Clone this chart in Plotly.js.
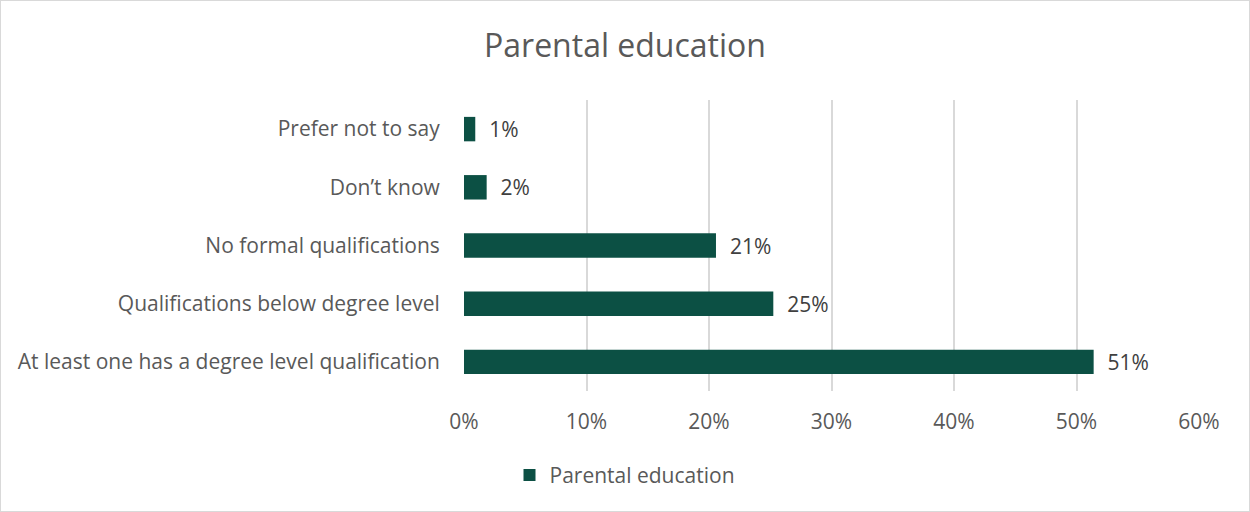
<!DOCTYPE html>
<html>
<head>
<meta charset="utf-8">
<script src="https://cdn.plot.ly/plotly-3.0.1.min.js"></script>
<style>
html,body{margin:0;padding:0;background:#fff;}
#wrap{position:absolute;left:0;top:0;width:1248px;height:510px;border:1px solid #d9d9d9;}
#chart{width:1248px;height:510px;}
</style>
</head>
<body>
<div id="wrap"><div id="chart"></div></div>
<script>
const categories = [
  "At least one has a degree level qualification",
  "Qualifications below degree level",
  "No formal qualifications",
  "Don\u2019t know",
  "Prefer not to say"
];
const values = [0.514, 0.2525, 0.2057, 0.0185, 0.0092];
const seriesName = "Parental education";
const tickVals = [0, 0.1, 0.2, 0.3, 0.4, 0.5, 0.6];
const tickText = ["0%", "10%", "20%", "30%", "40%", "50%", "60%"];

const fontFam = "'Open Sans', 'Noto Sans', sans-serif";

Plotly.newPlot("chart", [{
  type: "bar",
  orientation: "h",
  y: categories,
  x: values,
  name: seriesName,
  marker: {color: "#0c5044"},
  width: 0.42,
  text: values,
  texttemplate: "  %{x:.0%}",
  textposition: "outside",
  constraintext: "none",
  cliponaxis: false,
  textfont: {family: fontFam, size: 21, color: "#404040"},
  hoverinfo: "none"
}], {
  width: 1248,
  height: 510,
  margin: {l: 463, r: 50, t: 99, b: 120, pad: 0},
  paper_bgcolor: "#fff",
  plot_bgcolor: "#fff",
  title: {text: "Parental education", x: 0.5, xanchor: "center", xref: "container",
          y: 0.912, yanchor: "middle", yref: "container",
          font: {family: fontFam, size: 32, color: "#595959"}},
  xaxis: {
    range: [0, 0.6],
    tickvals: tickVals,
    ticktext: tickText,
    showgrid: true,
    gridcolor: "#d9d9d9",
    gridwidth: 2,
    zeroline: false,
    showline: false,
    ticks: "outside",
    ticklen: 12,
    tickcolor: "rgba(0,0,0,0)",
    tickfont: {family: fontFam, size: 21, color: "#595959"},
    fixedrange: true
  },
  yaxis: {
    type: "category",
    showgrid: false,
    zeroline: false,
    showline: false,
    ticks: "outside",
    ticklen: 19,
    tickcolor: "rgba(0,0,0,0)",
    tickfont: {family: fontFam, size: 21, color: "#595959"},
    fixedrange: true
  },
  bargap: 0.58,
  showlegend: true,
  legend: {
    orientation: "h",
    xref: "container",
    yref: "container",
    x: 0.5, xanchor: "center",
    y: 0.07, yanchor: "middle",
    font: {family: fontFam, size: 21, color: "#595959"},
    itemwidth: 30
  }
}, {displayModeBar: false, staticPlot: true});
</script>
</body>
</html>
